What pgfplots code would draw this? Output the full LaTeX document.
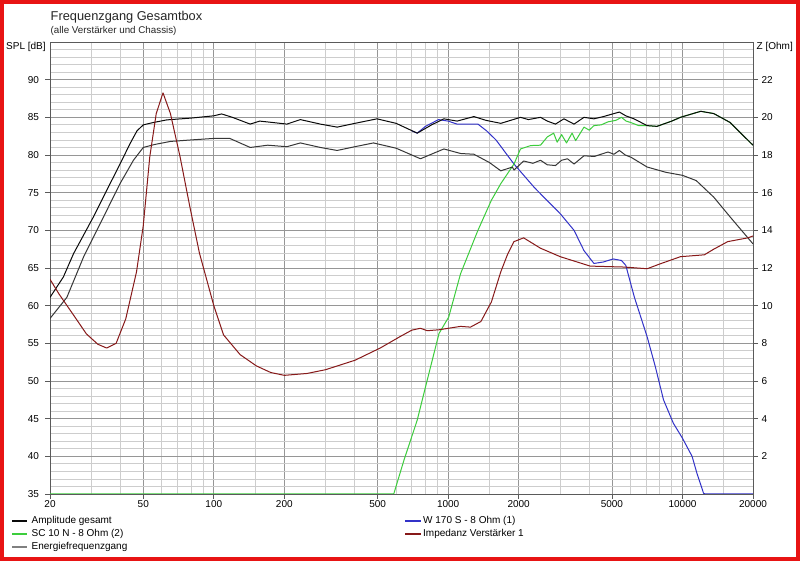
\documentclass[border=0pt]{standalone}
\usepackage{fontspec}
\setmainfont{Liberation Sans}
\usepackage{pgfplots}
\pgfplotsset{compat=1.18}
\definecolor{gridmaj}{RGB}{150,150,150}
\definecolor{gridmin}{RGB}{205,205,205}
\definecolor{axisc}{RGB}{90,90,90}
\definecolor{cAmp}{RGB}{10,10,10}
\definecolor{cEnergy}{RGB}{55,55,55}
\definecolor{cGreen}{RGB}{60,205,60}
\definecolor{cBlue}{RGB}{50,50,200}
\definecolor{cImp}{RGB}{135,25,25}
\definecolor{cFrame}{RGB}{232,20,20}
\begin{document}
\begin{tikzpicture}
\path[use as bounding box] (0pt,0pt) rectangle (800pt,561pt);
\fill[white] (0pt,0pt) rectangle (800pt,561pt);
\begin{axis}[
  at={(50pt,67pt)}, anchor=south west, scale only axis, width=703pt, height=452pt,
  xmode=log, xmin=20, xmax=20000, ymin=35, ymax=95,
  xtick={20,50,100,200,500,1000,2000,5000,10000,20000},
  xticklabels={20,50,100,200,500,1000,2000,5000,10000,20000},
  minor xtick={30,40,60,70,80,90,150,300,400,600,700,800,900,1500,3000,4000,6000,7000,8000,9000,15000},
  ytick={35,40,...,90},
  yticklabels={35,40,45,50,55,60,65,70,75,80,85,90},
  minor ytick={36,37,...,94},
  xmajorgrids, xminorgrids, ymajorgrids, yminorgrids,
  major grid style={draw=gridmaj, line width=0.8pt},
  minor grid style={draw=gridmin, line width=0.8pt},
  axis line style={draw=axisc, line width=0.8pt},
  tick align=outside, major tick length=5pt, minor tick length=0pt,
  xtick pos=left, ytick pos=left,
  tick style={draw=axisc, line width=0.8pt},
  ticklabel style={font=\fontsize{10}{12}\selectfont, text=black},
  xticklabel style={yshift=2.5pt},
  yticklabel style={xshift=-2.5pt},
  every axis plot/.append style={line width=1pt, line join=round},
]
% W 170 S - 8 Ohm (1)
\addplot[cBlue] coordinates {
(700,83.2) (738,82.9) (800,83.8) (910,84.7) (1000,84.5) (1092,84.1) (1200,84.1) (1340,84.1)
(1460,83.2) (1600,82.0) (1910,78.8) (2330,75.7) (2478,74.85) (3010,72.2) (3446,70.0)
(3800,67.3) (4190,65.6) (4600,65.8) (5060,66.2) (5490,66.0) (5730,65.35) (6230,61.15)
(7070,55.85) (7660,51.9) (8300,47.5) (9140,44.4) (10000,42.4) (10990,40.0) (11540,37.7)
(12300,35.1) (12500,35) (20000,35)};
% SC 10 N - 8 Ohm (2)
\addplot[cGreen] coordinates {
(20,35) (586,35) (648,39.5) (738,44.8) (814,50.1) (914,56.3) (1006,58.5) (1130,64.25)
(1340,70.0) (1530,74.0) (1678,76.2) (1910,78.8) (2036,80.8) (2250,81.25) (2478,81.3)
(2650,82.4) (2820,82.9) (2920,81.7) (3050,82.7) (3200,81.6) (3380,82.9) (3500,81.9)
(3800,83.7) (4000,83.3) (4190,83.9) (4500,84.0) (4810,84.4) (5200,84.6) (5490,85.0)
(5750,84.5) (6030,84.3) (6500,83.9) (7070,83.9) (7780,83.8) (9000,84.5) (9800,85.0)
(11960,85.8) (13600,85.5) (16000,84.3) (17600,83.0) (20000,81.3)};
% Energiefrequenzgang
\addplot[cEnergy] coordinates {
(20,58.3) (23.6,61.1) (27.8,66.45) (33.8,71.75) (39.8,76.2) (45.4,79.3) (50,81.0) (56,81.4)
(65.3,81.8) (80,82.0) (100,82.2) (117,82.2) (143,81.0) (170,81.3) (205,81.1) (234,81.6)
(285,81.0) (336,80.6) (400,81.1) (480,81.6) (600,80.9) (762,79.5) (959,80.8) (1130,80.2)
(1288,80.1) (1500,79.0) (1678,77.9) (1880,78.4) (1910,78.0) (2100,79.2) (2300,78.9)
(2478,79.3) (2650,78.7) (2870,78.6) (3050,79.3) (3230,79.5) (3446,78.8) (3800,79.9)
(4200,79.8) (4810,80.4) (5100,80.1) (5380,80.6) (5700,80.0) (6030,79.7) (7070,78.4)
(8500,77.7) (10000,77.3) (11450,76.6) (13600,74.4) (16000,71.75) (20000,68.2)};
% Amplitude gesamt
\addplot[cAmp] coordinates {
(20,61.1) (22.8,63.8) (25.2,66.9) (30.6,71.75) (34.9,75.3) (39.8,78.8) (43.9,81.5) (47,83.2)
(50,84.0) (55,84.3) (63,84.66) (80,84.9) (100,85.2) (108,85.45) (120,85.0) (143,84.1)
(157,84.5) (180,84.3) (205,84.1) (234,84.7) (285,84.1) (336,83.7) (400,84.2) (497,84.8)
(600,84.2) (738,82.9) (850,84.0) (959,84.8) (1092,84.5) (1288,85.1) (1450,84.6) (1678,84.2)
(2036,85.0) (2200,84.7) (2478,85.0) (2650,84.5) (2870,84.1) (3120,84.8) (3446,84.1)
(3800,85.0) (4190,84.8) (4600,85.1) (4970,85.4) (5380,85.7) (5730,85.2) (6210,84.8)
(7070,83.9) (7780,83.8) (9000,84.5) (9800,85.0) (11960,85.8) (13600,85.5) (16000,84.3)
(17600,83.0) (20000,81.3)};
\end{axis}
\begin{axis}[
  at={(50pt,67pt)}, anchor=south west, scale only axis, width=703pt, height=452pt,
  xmode=log, xmin=20, xmax=20000, ymin=0, ymax=24,
  axis y line*=right, axis x line=none,
  ytick={2,4,...,22},
  yticklabels={2,4,6,8,10,12,14,16,18,20,22},
  axis line style={draw=axisc, line width=0.8pt},
  tick align=outside, major tick length=5pt, minor tick length=0pt,
  tick style={draw=axisc, line width=0.8pt},
  ticklabel style={font=\fontsize{10}{12}\selectfont, text=black},
  every axis plot/.append style={line width=1pt, line join=round},
]
% Impedanz Verstaerker 1
\addplot[cImp] coordinates {
(20,11.4) (21.9,10.6) (25.2,9.5) (28.6,8.5) (32,7.95) (34.9,7.75) (38.3,8.0) (42.1,9.3)
(46.8,11.8) (50,14.25) (53.3,17.9) (56.8,20.2) (60.7,21.3) (65.3,20.2) (71.8,17.9)
(78.9,15.3) (86.8,12.8) (100,10.0) (110,8.45) (129.5,7.4) (152,6.8) (175,6.45) (200,6.3)
(250,6.4) (300,6.6) (400,7.1) (513,7.75) (626,8.37) (700,8.7) (762,8.8) (814,8.67)
(914,8.72) (1130,8.9) (1245,8.86) (1380,9.16) (1530,10.2) (1678,11.8) (1790,12.7)
(1910,13.4) (2100,13.6) (2478,13.05) (3010,12.6) (4040,12.1) (5660,12.05) (7070,11.96)
(7950,12.2) (9800,12.6) (12400,12.7) (13600,13.0) (15600,13.4) (19000,13.6) (20000,13.7)};
\end{axis}
% titles and axis names
\node[anchor=base west, inner sep=0pt, font=\fontsize{12.8}{15}\selectfont, text=black!85] at (50.5pt,540.3pt) {Frequenzgang Gesamtbox};
\node[anchor=base west, inner sep=0pt, font=\fontsize{9.8}{12}\selectfont, text=black!85] at (50.5pt,527pt) {(alle Verstärker und Chassis)};
\node[anchor=base west, inner sep=0pt, font=\fontsize{10}{12}\selectfont] at (6pt,511pt) {SPL [dB]};
\node[anchor=base west, inner sep=0pt, font=\fontsize{10}{12}\selectfont] at (756.5pt,511pt) {Z [Ohm]};
% legend
\begin{scope}[font=\fontsize{10}{12}\selectfont]
\draw[draw=cAmp, line width=1.5pt] (12pt,40pt) -- (27pt,40pt);
\node[anchor=west, inner sep=0pt] at (31.5pt,40pt) {Amplitude gesamt};
\draw[draw=cGreen, line width=1.5pt] (12pt,27pt) -- (27pt,27pt);
\node[anchor=west, inner sep=0pt] at (31.5pt,27pt) {SC 10 N - 8 Ohm (2)};
\draw[draw=gray, line width=1.5pt] (12pt,14pt) -- (27pt,14pt);
\node[anchor=west, inner sep=0pt] at (31.5pt,14pt) {Energiefrequenzgang};
\draw[draw=cBlue, line width=1.5pt] (405pt,40pt) -- (421pt,40pt);
\node[anchor=west, inner sep=0pt] at (423pt,40pt) {W 170 S - 8 Ohm (1)};
\draw[draw=cImp, line width=1.5pt] (405pt,27pt) -- (421pt,27pt);
\node[anchor=west, inner sep=0pt] at (423pt,27pt) {Impedanz Verstärker 1};
\end{scope}
% red frame
\draw[cFrame, line width=4pt] (2pt,2pt) rectangle (798pt,559pt);
\end{tikzpicture}
\end{document}
